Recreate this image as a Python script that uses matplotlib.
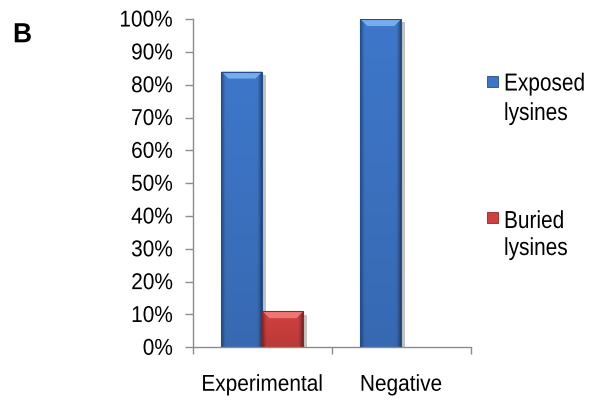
import numpy as np
import matplotlib
matplotlib.use("Agg")
import matplotlib.pyplot as plt
from matplotlib.patches import Rectangle, Polygon
from matplotlib.ticker import PercentFormatter, FixedLocator, NullFormatter
from matplotlib.transforms import Affine2D
import matplotlib.patheffects as pe

plt.rcParams['font.family'] = ['Liberation Sans', 'DejaVu Sans']

categories = ["Experimental", "Negative"]
series_names = ["Exposed\nlysines", "Buried\nlysines"]
exposed = [84, 100]
buried = [11, 0]
y_ticks = [0, 10, 20, 30, 40, 50, 60, 70, 80, 90, 100]

blue = dict(base=np.array([61, 117, 198]) / 255, dark=np.array([36, 78, 142]) / 255,
            light=np.array([118, 172, 238]) / 255)
red = dict(base=np.array([206, 64, 62]) / 255, dark=np.array([150, 36, 34]) / 255,
           light=np.array([236, 120, 116]) / 255)


class VStretch(pe.AbstractPathEffect):
    """Stretch glyphs vertically about their baseline."""

    def __init__(self, s):
        super().__init__()
        self.s = s

    def draw_path(self, renderer, gc, tpath, affine, rgbFace=None):
        renderer.draw_path(gc, tpath, Affine2D().scale(1, self.s) + affine, rgbFace)


fig = plt.figure(figsize=(5.96, 4.02), dpi=100)
ax = fig.add_axes([0.3238, 0.1336, 0.466, 0.8166])

x = np.arange(len(categories))
w = 0.295
bars_e = ax.bar(x - w / 2, exposed, width=w, color=blue['base'], zorder=2)
bars_b = ax.bar(x + w / 2, buried, width=w, color=red['base'], zorder=2)

ax.set_xlim(-0.5, len(categories) - 0.5)
ax.set_ylim(0, 100)

grey = '#8c8c8c'
for s in ['top', 'right']:
    ax.spines[s].set_visible(False)
for s in ['left', 'bottom']:
    ax.spines[s].set_color(grey)
    ax.spines[s].set_linewidth(1.0)

ax.yaxis.set_major_locator(FixedLocator(y_ticks))
ax.yaxis.set_major_formatter(PercentFormatter(100, decimals=0))
ax.tick_params(axis='y', direction='out', length=5.8, width=1.0, color=grey,
               pad=8.5, labelsize=15)

ax.xaxis.set_major_locator(FixedLocator(np.arange(len(categories) + 1) - 0.5))
ax.xaxis.set_major_formatter(NullFormatter())
ax.xaxis.set_minor_locator(FixedLocator(x))
ax.set_xticklabels(categories, minor=True)
ax.tick_params(axis='x', which='major', direction='out', length=5, width=1.0, color=grey)
ax.tick_params(axis='x', which='minor', length=0, pad=20.5, labelsize=15)

fig.canvas.draw()
for lbl in ax.get_yticklabels() + ax.get_xticklabels(minor=True):
    lbl.set_path_effects([VStretch(1.1)])

inv = ax.transData.inverted()
p0 = inv.transform((0, 0))
p1 = inv.transform((1, 1))
dx_px = p1[0] - p0[0]
dy_px = p1[1] - p0[1]


def shade(bars, pal):
    for b in bars:
        x0, y0 = b.get_x(), b.get_y()
        bw, bh = b.get_width(), b.get_height()
        if bh <= 0:
            b.set_visible(False)
            continue
        b.set_path_effects([pe.SimplePatchShadow(offset=(2.5, -2.5), alpha=0.35,
                                                 shadow_rgbFace='#555555'), pe.Normal()])
        nx, ny = 60, 120
        u = np.linspace(0, 1, nx)
        v = np.linspace(0, 1, ny)[:, None]
        edge = np.clip(1 - np.minimum(u, 1 - u) / 0.12, 0, 1) ** 1.5
        img = pal['base'][None, None, :] * (1 - 0.40 * edge[None, :, None])
        img = img * (0.90 + 0.12 * v[..., None])
        img = np.clip(img, 0, 1)
        im = ax.imshow(img, extent=(x0, x0 + bw, y0, y0 + bh), origin='lower',
                       aspect='auto', zorder=2.5, interpolation='bilinear')
        im.set_clip_path(b)
        bev_x = 7 * dx_px
        bev_y = min(7 * dy_px, bh * 0.5)
        top = y0 + bh
        ax.add_patch(Polygon([(x0, top), (x0 + bw, top), (x0 + bw - bev_x, top - bev_y),
                              (x0 + bev_x, top - bev_y)], closed=True,
                             facecolor=pal['light'], edgecolor='none', zorder=2.6))
        ax.add_patch(Rectangle((x0, y0), bw, bh, facecolor='none',
                               edgecolor=pal['dark'], linewidth=0.8, zorder=2.7))


shade(bars_e, blue)
shade(bars_b, red)

# legend: marker square plus one text per line, baselines in pixels from the top
fig_w, fig_h = 596, 402
legend_rows = [
    (series_names[0], blue, 77, [91.5, 121.0]),
    (series_names[1], red, 213, [229.0, 256.0]),
]
for name, pal, sq_top, baselines in legend_rows:
    sq = 11
    fig.patches.append(Rectangle((487 / fig_w, 1 - (sq_top + sq) / fig_h),
                                 sq / fig_w, sq / fig_h, transform=fig.transFigure,
                                 facecolor=pal['base'], edgecolor=pal['dark'],
                                 linewidth=0.6))
    for line, base in zip(name.split("\n"), baselines):
        fig.text(504 / fig_w, 1 - base / fig_h, line, fontsize=15, va='baseline',
                 ha='left', path_effects=[VStretch(1.18)])

fig.text(13 / fig_w, 1 - 43.3 / fig_h, "B", fontsize=19, fontweight='bold',
         va='baseline', path_effects=[VStretch(1.05)])

fig.savefig("out.png", dpi=100)
